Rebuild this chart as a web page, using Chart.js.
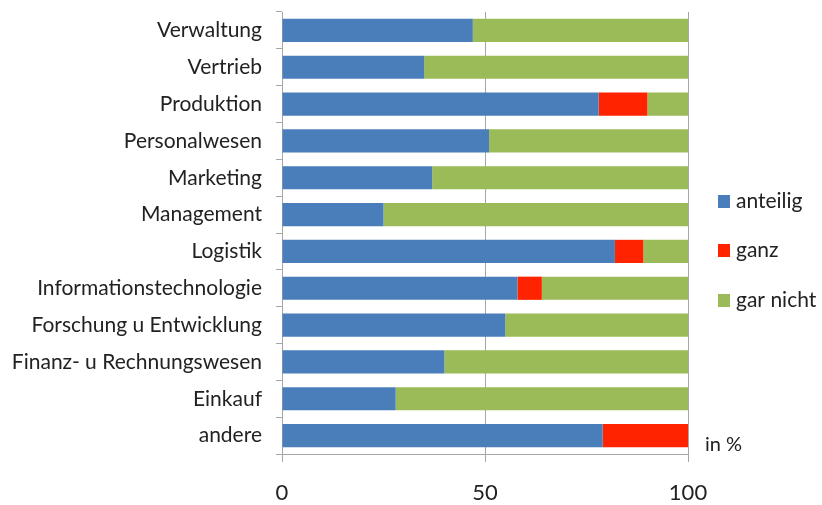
<!DOCTYPE html>
<html><head><meta charset="utf-8">
<script src="https://cdn.jsdelivr.net/npm/chart.js@4"></script>
<style>html,body{margin:0;padding:0;background:#fff}#wrap{width:822px;height:505px;position:relative}</style>
</head><body><div id="wrap"><canvas id="c" width="822" height="505"></canvas></div>
<script>
const categories = ["Verwaltung","Vertrieb","Produktion","Personalwesen","Marketing","Management","Logistik","Informationstechnologie","Forschung u Entwicklung","Finanz- u Rechnungswesen","Einkauf","andere"];
const anteilig = [47,35,78,51,37,25,82,58,55,40,28,79];
const ganz     = [0,0,12,0,0,0,7,6,0,0,0,21];
const garNicht = [53,65,10,49,63,75,11,36,45,60,72,0];
const xTicks = [0,50,100];
const unitLabel = "in %";

const FONT = "Lato";
const legendPlugin = {
  id:'customLegend',
  afterDraw(chart){
    const ctx = chart.ctx;
    ctx.save();
    ctx.font = "21px " + FONT;
    ctx.textBaseline = "middle";
    const ys = [201,250,300];
    chart.data.datasets.forEach((ds,i)=>{
      ctx.fillStyle = ds.backgroundColor;
      ctx.fillRect(718, ys[i]-6, 12, 13);
      ctx.fillStyle = "#222";
      ctx.fillText(ds.label, 736, ys[i]);
    });
    ctx.font = "20px " + FONT;
    ctx.fillText(unitLabel, 705, 445);
    ctx.restore();
  }
};

new Chart(document.getElementById('c'), {
  type:'bar',
  data:{
    labels:categories,
    datasets:[
      {label:"anteilig", data:anteilig, backgroundColor:"#4a7ebb"},
      {label:"ganz", data:ganz, backgroundColor:"#ff2300"},
      {label:"gar nicht", data:garNicht, backgroundColor:"#9bbb59"}
    ]
  },
  options:{
    indexAxis:'y',
    responsive:false,
    animation:false,
    layout:{padding:{left:0,right:134,top:12,bottom:0}},
    datasets:{bar:{barPercentage:0.63,categoryPercentage:1}},
    plugins:{legend:{display:false},tooltip:{enabled:false}},
    scales:{
      x:{
        stacked:true, min:0, max:100,
        afterBuildTicks(s){ s.ticks = xTicks.map(v=>({value:v})); },
        afterFit(s){ s.height = 51; s.paddingLeft = 0; s.paddingRight = 0; },
        grid:{color:"#a6a6a6", lineWidth:1, tickLength:8, drawTicks:true},
        border:{color:"#a6a6a6"},
        ticks:{font:{family:FONT,size:22}, color:"#222", padding:18, maxRotation:0}
      },
      y:{
        stacked:true,
        afterFit(s){ s.width = 282; s.paddingTop = 0; s.paddingBottom = 0; },
        grid:{drawOnChartArea:false, color:"#a6a6a6", tickLength:6, offset:true},
        border:{color:"#a6a6a6"},
        ticks:{font:{family:FONT,size:21}, color:"#222", padding:14, autoSkip:false}
      }
    }
  },
  plugins:[legendPlugin]
});
</script></body></html>
